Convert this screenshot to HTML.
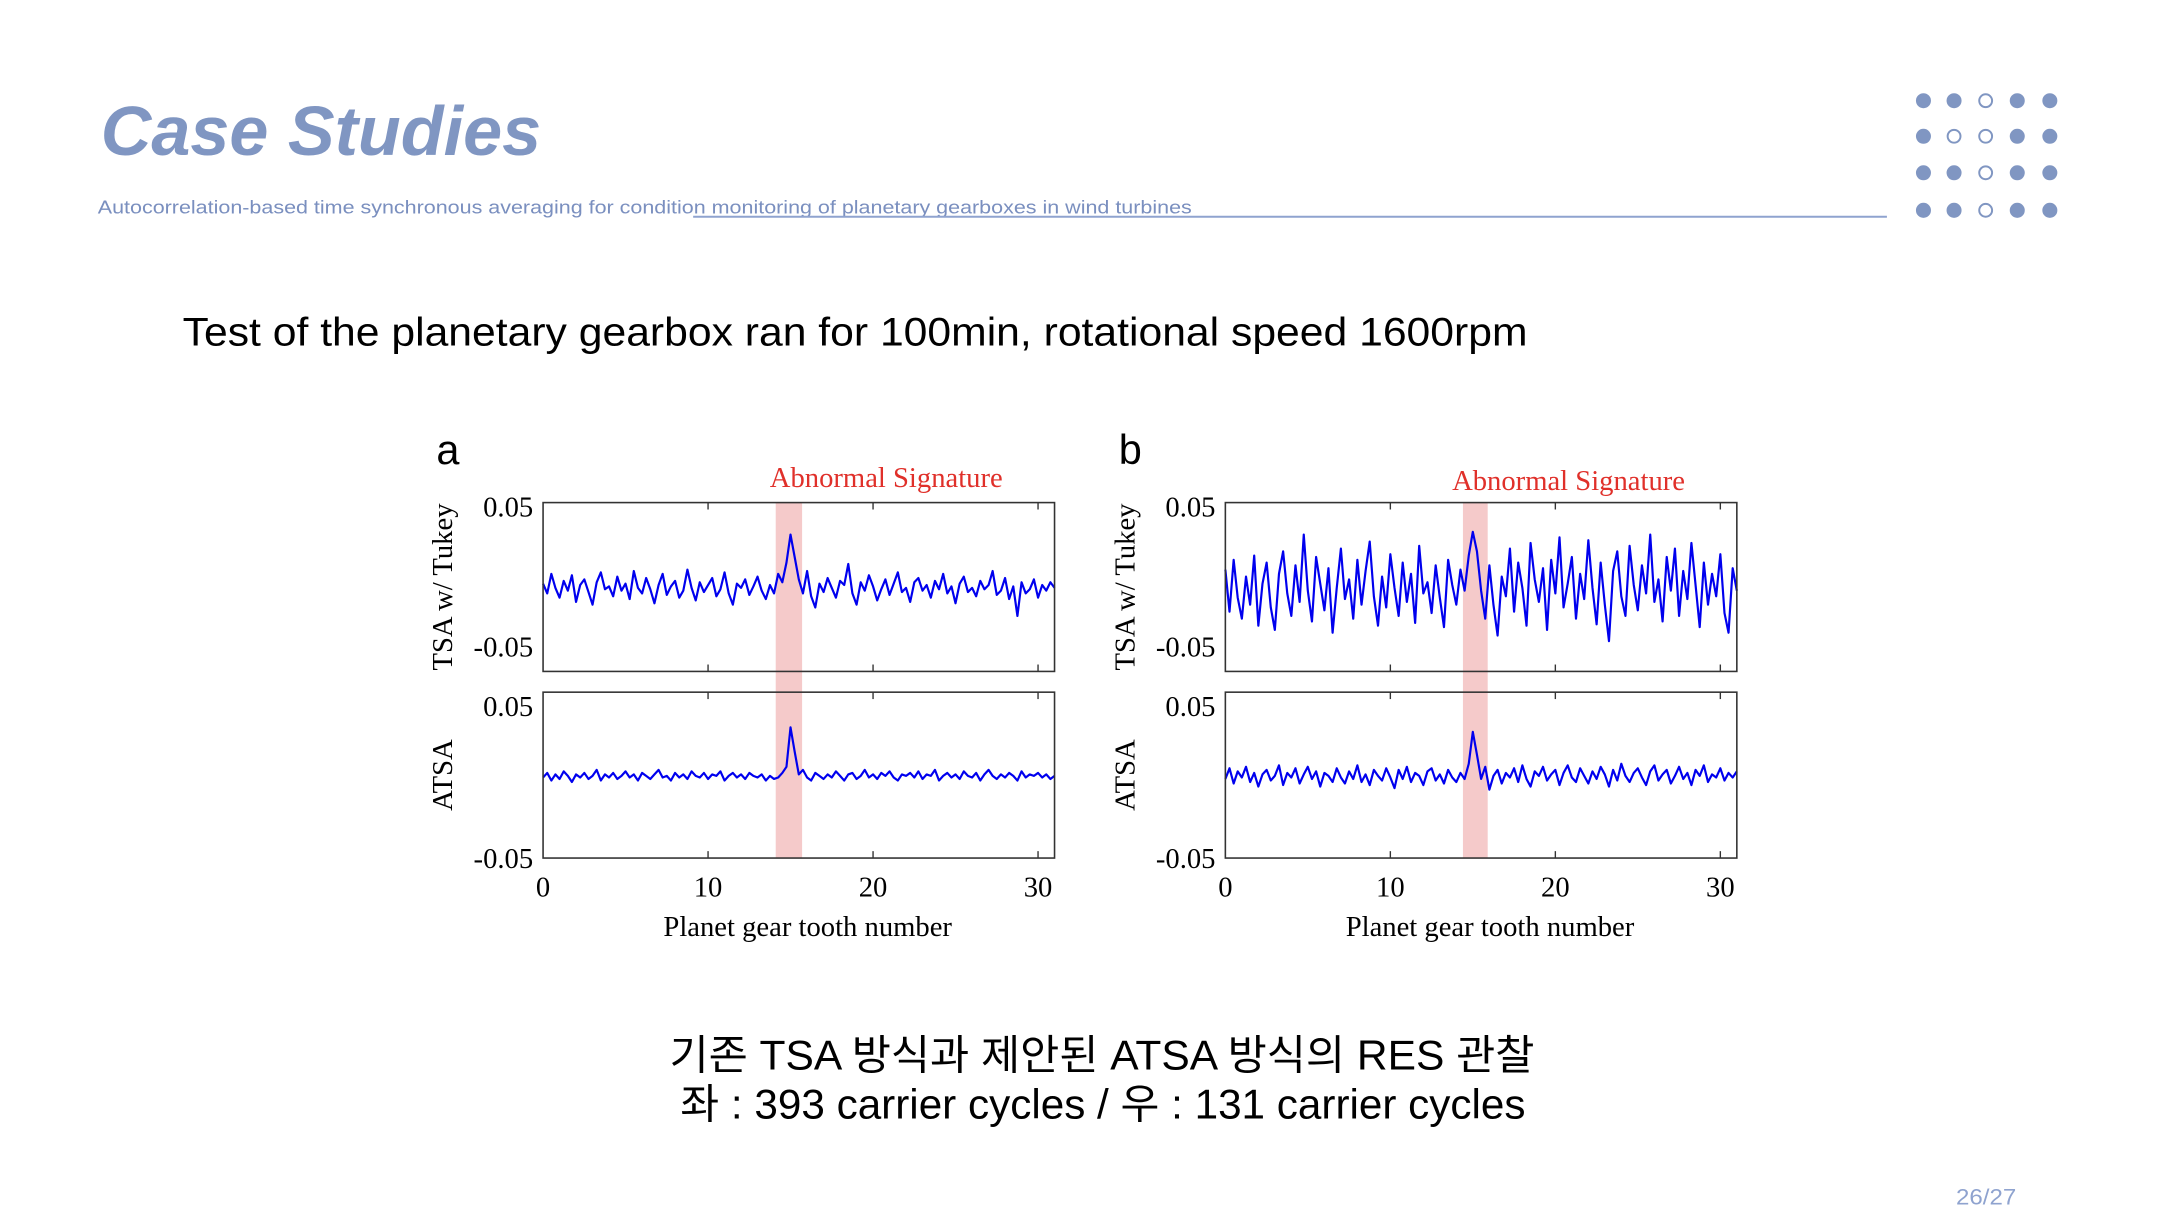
<!DOCTYPE html>
<html><head><meta charset="utf-8"><style>
html,body{margin:0;padding:0;background:#fff;}
svg{display:block;}
.serif{font-family:"Liberation Serif",serif;}
</style></head><body>
<svg id="page" width="2168" height="1228" viewBox="0 0 2168 1228" xmlns="http://www.w3.org/2000/svg">
<g transform="scale(0.9874)">
<text x="102" y="157" font-family="Liberation Sans, sans-serif" font-size="70" font-weight="bold" font-style="italic" fill="#8096c2" textLength="446" lengthAdjust="spacingAndGlyphs">Case Studies</text>
<text x="99" y="216" font-family="Liberation Sans, sans-serif" font-size="19" fill="#7a8fbf" textLength="1108" lengthAdjust="spacingAndGlyphs">Autocorrelation-based time synchronous averaging for condition monitoring of planetary gearboxes in wind turbines</text>
<line x1="702" y1="219.5" x2="1911" y2="219.5" stroke="#8fa3cf" stroke-width="2"/>
<g id="dots"></g>
<text x="185" y="350" font-family="Liberation Sans, sans-serif" font-size="40" fill="#000" textLength="1362" lengthAdjust="spacingAndGlyphs">Test of the planetary gearbox ran for 100min, rotational speed 1600rpm</text>
<g id="charts"></g>
<text x="1116" y="1083" text-anchor="middle" font-family="Liberation Sans, 'Noto Sans CJK KR', sans-serif" font-size="42" fill="#000" textLength="876" lengthAdjust="spacingAndGlyphs">기존 TSA 방식과 제안된 ATSA 방식의 RES 관찰</text>
<text x="1117" y="1133" text-anchor="middle" font-family="Liberation Sans, 'Noto Sans CJK KR', sans-serif" font-size="42" fill="#000" textLength="856" lengthAdjust="spacingAndGlyphs">좌 : 393 carrier cycles / 우 : 131 carrier cycles</text>
<text x="1981" y="1220" font-family="Liberation Sans, sans-serif" font-size="22" fill="#8fa3cf" textLength="61" lengthAdjust="spacingAndGlyphs">26/27</text>
</g>
</svg>
<script>
// ----- chart data (values in thousandths) -----
const xTicks = [0, 10, 20, 30];
const xTickLabels = ["0", "10", "20", "30"];
const yTickValues = [50, -50];
const yTickLabels = ["0.05", "-0.05"];
const xStep = 0.25;
const shadeA = [14.1, 15.7];
const shadeB = [14.4, 15.9];
const topA = [-5,-12,2,-8,-15,-3,-10,1,-18,-6,
-2,-11,-20,-4,3,-9,-7,-14,0,-10,
-5,-16,4,-8,-12,-1,-9,-19,-6,2,
-13,-7,-3,-15,-10,5,-8,-17,-4,-11,
-6,-1,-14,-9,3,-12,-20,-5,-8,-2,
-13,-7,0,-10,-16,-6,-12,2,-4,10,
30,14,-2,-12,4,-14,-22,-5,-11,-1,
-8,-15,-3,-6,9,-12,-20,-4,-10,1,
-7,-17,-9,-2,-13,-5,3,-11,-8,-18,
-4,-1,-10,-6,-15,-3,-9,2,-12,-7,
-19,-5,0,-11,-8,-14,-3,-9,-6,4,
-13,-10,-1,-16,-7,-28,-4,-12,-9,-2,
-15,-6,-10,-4,-8];
const lowA = [3,6,1,5,2,7,4,0,5,3,
6,2,4,8,1,5,3,6,2,4,
7,3,5,1,6,4,2,5,8,3,
4,1,6,3,5,2,7,4,3,6,
2,5,4,7,1,4,6,3,5,2,
6,4,3,5,1,4,2,3,6,10,
36,20,5,8,3,1,6,4,2,5,
3,7,4,1,5,6,2,4,8,3,
5,2,6,4,7,3,1,5,4,6,
3,7,2,5,4,8,1,4,6,3,
5,2,7,4,3,6,1,5,8,4,
2,5,3,6,4,1,7,3,5,4,
6,3,5,2,4];
const topB = [5,-25,12,-15,-30,0,-20,15,-35,-5,
10,-22,-38,2,18,-12,-28,8,-18,30,
-10,-32,14,-5,-24,6,-40,-8,20,-16,
-2,-30,12,-20,4,25,-14,-35,0,-22,
16,-8,-28,10,-18,2,-33,22,-12,-4,
-26,8,-15,-36,12,-6,-20,5,-10,15,
32,18,-10,-30,8,-20,-42,0,-14,20,
-25,10,-8,-35,24,-2,-18,6,-38,12,
-12,28,-22,-5,14,-30,2,-16,26,-8,
-34,10,-20,-46,4,18,-14,-28,22,-6,
-24,8,-12,30,-18,-2,-32,14,-10,20,
-28,4,-16,24,-6,-36,10,-20,2,-14,
16,-26,-40,6,-10];
const lowB = [2,9,-1,7,3,10,0,6,-3,5,
8,1,4,11,-2,6,3,9,-1,5,
10,2,7,-3,6,4,0,9,3,-1,
7,2,11,0,5,-2,8,4,1,9,
3,-4,8,2,10,0,6,4,-2,7,
9,1,5,-1,8,3,0,6,2,12,
33,18,2,10,-5,4,8,-1,6,3,
9,0,11,2,-3,7,4,10,1,5,
8,-2,6,11,3,0,9,4,-1,7,
2,10,5,-3,8,1,12,4,0,6,
9,3,-2,7,11,1,5,8,-1,4,
10,2,6,-2,8,4,11,0,5,3,
9,1,6,3,7];

const NS = "http://www.w3.org/2000/svg";
function mk(tag, attrs, parent){ const e=document.createElementNS(NS,tag); for(const k in attrs) e.setAttribute(k,attrs[k]); parent.appendChild(e); return e; }

const dots = document.getElementById('dots');
const dotCols=[1948,1979,2011,2043,2076], dotRows=[102,138,175,213];
const hollow=[[2],[1,2],[2],[2]];
dotRows.forEach((cy,r)=>dotCols.forEach((cx,c)=>{
  const h = hollow[r].includes(c);
  const d = mk('circle',{cx:cx,cy:cy,r:h?6.5:7.6,fill:h?'#fff':'#8096c2',stroke:'#8096c2','stroke-width':h?2:0},dots);
  
  
}));

const charts = document.getElementById('charts');
const XMAX = 31, W = 518;
function panel(ox, letter, shade, top, low, labelDy){
  const g = mk('g',{},charts);
  
  
  const xs = v => ox + v / XMAX * W;
  const t = mk('text',{x:ox-108,y:470,'font-family':'Liberation Sans, sans-serif','font-size':42},g); t.textContent=letter;
   
  const ab = mk('text',{x:xs(20.8),y:493+labelDy,'text-anchor':'middle','class':'serif','font-size':29,fill:'#e0302a'},g); ab.textContent='Abnormal Signature';
   
  const subs = [
    {y0:509,y1:680,ys:v=>513+(50-v)*1.42,data:top,name:'tsa-tukey',ylab:'TSA w/ Tukey'},
    {y0:701,y1:869,ys:v=>715+(50-v)*1.54,data:low,name:'atsa',ylab:'ATSA'}
  ];
  const sh = mk('rect',{x:xs(shade[0]),y:509,width:xs(shade[1])-xs(shade[0]),height:360,fill:'#f5caca'},g);
   
  subs.forEach(s=>{
    const sg = mk('g',{},g);
     
    const pts = s.data.map((v,i)=>xs(i*xStep).toFixed(1)+','+s.ys(v).toFixed(1)).join(' ');
    const pl = mk('polyline',{points:pts,fill:'none',stroke:'#0000ee','stroke-width':2.2,'stroke-linejoin':'round'},sg);
     
    const fr = mk('rect',{x:ox,y:s.y0,width:W,height:s.y1-s.y0,fill:'none',stroke:'#333','stroke-width':1.6},sg);
     
    xTicks.forEach(v=>{ if(v===0) return;
      mk('line',{x1:xs(v),x2:xs(v),y1:s.y0,y2:s.y0+7,stroke:'#333','stroke-width':1.4},sg);
      mk('line',{x1:xs(v),x2:xs(v),y1:s.y1,y2:s.y1-7,stroke:'#333','stroke-width':1.4},sg);
    });
    yTickValues.forEach((v,i)=>{
      const tl = mk('text',{x:ox-10,y:s.ys(v)+10,'text-anchor':'end','class':'serif','font-size':29},sg);
      tl.textContent = yTickLabels[i];
       
    });
    const cy=(s.y0+s.y1)/2;
    const yl = mk('text',{x:ox-92,y:cy,'text-anchor':'middle','class':'serif','font-size':29,transform:'rotate(-90 '+(ox-92)+' '+cy+')'},sg);
    yl.textContent=s.ylab;
     
  });
  xTicks.forEach((v,i)=>{
    const tl = mk('text',{x:xs(v),y:908,'text-anchor':'middle','class':'serif','font-size':29},g);
    tl.textContent=xTickLabels[i];
     
  });
  const xl = mk('text',{x:ox+268,y:948,'text-anchor':'middle','class':'serif','font-size':29},g);
  xl.textContent='Planet gear tooth number';
   
}
panel(550,'a',shadeA,topA,lowA,0);
panel(1241,'b',shadeB,topB,lowB,3);
</script>
</body></html>
